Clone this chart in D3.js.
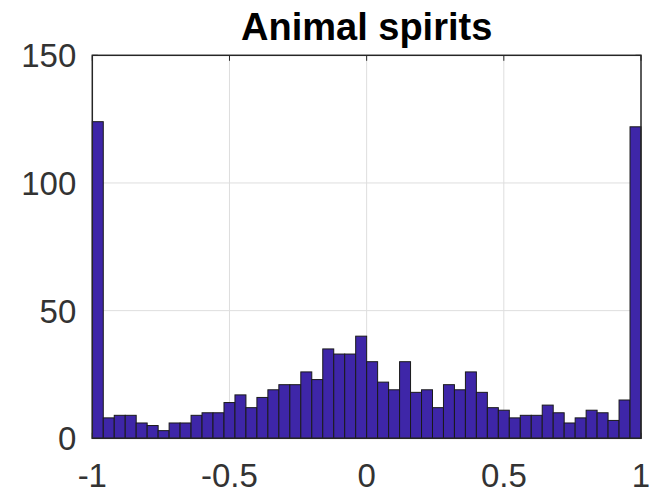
<!DOCTYPE html>
<html>
<head>
<meta charset="utf-8">
<script src="https://cdn.jsdelivr.net/npm/d3@7"></script>
<style>
  body { margin: 0; background: #fff; }
  svg { display: block; }
</style>
</head>
<body>
<svg width="656" height="494"></svg>
<script>
// histogram counts, 50 bins from -1 to 1
const counts = [124, 8, 9, 9, 6, 5, 3, 6, 6, 9, 10, 10, 14, 17, 12, 16, 19, 21, 21, 26,
                23, 35, 33, 33, 40, 30, 22, 19, 30, 18, 19, 12, 21, 19, 26, 18, 12, 11, 8, 9,
                9, 13, 10, 6, 8, 11, 10, 7, 15, 122];
const binRange = [-1, 1];
const xTicks = [-1, -0.5, 0, 0.5, 1];
const xTickLabels = ["-1", "-0.5", "0", "0.5", "1"];
const yTicks = [0, 50, 100, 150];
const title = "Animal spirits";

const width = 656, height = 494;
const margin = {top: 55.3, right: 15, bottom: 55.7, left: 92.3};

const svg = d3.select("svg");

const binW = (binRange[1] - binRange[0]) / counts.length;
const bins = counts.map((c, i) => ({x0: binRange[0] + i * binW, x1: binRange[0] + (i + 1) * binW, n: c}));

const x = d3.scaleLinear().domain(binRange).range([margin.left, width - margin.right]);
const y = d3.scaleLinear().domain([0, 150]).range([height - margin.bottom, margin.top]);

const axisColor = "#262626";

// grid
const grid = svg.append("g").attr("stroke", "#dedede").attr("stroke-width", 1);
grid.selectAll(".gx")
    .data(xTicks.slice(1, -1))
    .join("line")
    .attr("x1", d => x(d)).attr("x2", d => x(d))
    .attr("y1", y(0)).attr("y2", y(150));
grid.selectAll(".gy")
    .data(yTicks.slice(1, -1))
    .join("line")
    .attr("x1", x(-1)).attr("x2", x(1))
    .attr("y1", d => y(d)).attr("y2", d => y(d));

// inner tick marks (top and bottom, left and right)
const tk = 5.5;
const ticks = svg.append("g").attr("stroke", axisColor).attr("stroke-width", 1);
ticks.selectAll(".tt")
    .data(xTicks)
    .join("line")
    .attr("x1", d => x(d)).attr("x2", d => x(d))
    .attr("y1", y(150)).attr("y2", y(150) + tk);
ticks.selectAll(".tb")
    .data(xTicks)
    .join("line")
    .attr("x1", d => x(d)).attr("x2", d => x(d))
    .attr("y1", y(0)).attr("y2", y(0) - tk);
ticks.selectAll(".tl")
    .data(yTicks)
    .join("line")
    .attr("x1", x(-1)).attr("x2", x(-1) + tk)
    .attr("y1", d => y(d)).attr("y2", d => y(d));
ticks.selectAll(".tr")
    .data(yTicks)
    .join("line")
    .attr("x1", x(1)).attr("x2", x(1) - tk)
    .attr("y1", d => y(d)).attr("y2", d => y(d));

// bars
svg.append("g")
    .selectAll("rect")
    .data(bins)
    .join("rect")
    .attr("x", d => x(d.x0))
    .attr("width", d => x(d.x1) - x(d.x0))
    .attr("y", d => y(d.n))
    .attr("height", d => y(0) - y(d.n))
    .attr("fill", "rgb(62,38,168)")
    .attr("stroke", "#1a1a1a")
    .attr("stroke-width", 1);

// box
svg.append("rect")
    .attr("x", x(-1)).attr("y", y(150))
    .attr("width", x(1) - x(-1)).attr("height", y(0) - y(150))
    .attr("fill", "none")
    .attr("stroke", axisColor)
    .attr("stroke-width", 1.5);

// tick labels
svg.append("g")
    .attr("font-family", "'Liberation Sans', Arial, sans-serif")
    .attr("font-size", 33)
    .attr("fill", "#333")
    .attr("text-anchor", "end")
    .selectAll("text")
    .data(yTicks)
    .join("text")
    .attr("x", x(-1) - 16)
    .attr("y", d => y(d))
    .attr("dy", "0.36em")
    .text(d => d);

svg.append("g")
    .attr("font-family", "'Liberation Sans', Arial, sans-serif")
    .attr("font-size", 33)
    .attr("fill", "#333")
    .attr("text-anchor", "middle")
    .selectAll("text")
    .data(xTicks)
    .join("text")
    .attr("x", d => x(d))
    .attr("y", 486.5)
    .text((d, i) => xTickLabels[i]);

// title
svg.append("text")
    .attr("x", (x(-1) + x(1)) / 2)
    .attr("y", 39.5)
    .attr("text-anchor", "middle")
    .attr("font-family", "'Liberation Sans', Arial, sans-serif")
    .attr("font-weight", "bold")
    .attr("font-size", 38)
    .attr("fill", "#000")
    .text(title);
</script>
</body>
</html>
